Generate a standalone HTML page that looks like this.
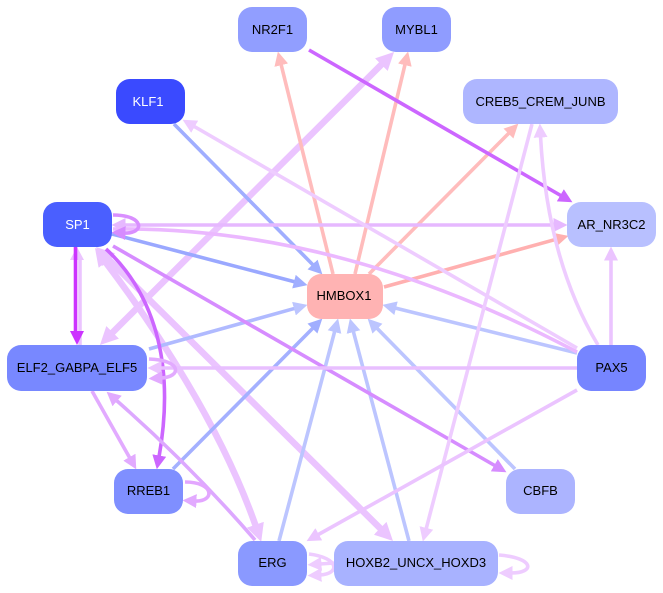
<!DOCTYPE html>
<html>
<head>
<meta charset="utf-8">
<style>
html,body{margin:0;padding:0;background:#fff;}
svg{display:block;}
text{font-family:"Liberation Sans",sans-serif;font-size:13px;text-anchor:middle;fill:#000;}
path.e,line.e{fill:none;stroke-width:3.6;}
line.t{stroke-width:6.5;}
path.t{fill:none;stroke-width:6.5;}
</style>
</head>
<body>
<svg width="663" height="593" viewBox="0 0 663 593" xmlns="http://www.w3.org/2000/svg">
<defs>
<marker id="b1" markerUnits="userSpaceOnUse" markerWidth="15" markerHeight="14" refX="1.5" refY="7" orient="auto"><path d="M0,0L14,7L0,14z" fill="#a0aeff"/></marker>
<marker id="b2" markerUnits="userSpaceOnUse" markerWidth="15" markerHeight="14" refX="1.5" refY="7" orient="auto"><path d="M0,0L14,7L0,14z" fill="#bcc5ff"/></marker>
<marker id="p" markerUnits="userSpaceOnUse" markerWidth="15" markerHeight="14" refX="1.5" refY="7" orient="auto"><path d="M0,0L14,7L0,14z" fill="#ffbcbc"/></marker>
<marker id="r" markerUnits="userSpaceOnUse" markerWidth="15" markerHeight="14" refX="1.5" refY="7" orient="auto"><path d="M0,0L14,7L0,14z" fill="#ffb0b0"/></marker>
<marker id="v" markerUnits="userSpaceOnUse" markerWidth="15" markerHeight="14" refX="1.5" refY="7" orient="auto"><path d="M0,0L14,7L0,14z" fill="#cc66ff"/></marker>
<marker id="l" markerUnits="userSpaceOnUse" markerWidth="15" markerHeight="14" refX="1.5" refY="7" orient="auto"><path d="M0,0L14,7L0,14z" fill="#ebc4ff"/></marker>
<marker id="ls" markerUnits="userSpaceOnUse" markerWidth="15" markerHeight="14" refX="1.5" refY="7" orient="auto-start-reverse"><path d="M0,0L14,7L0,14z" fill="#e6b8ff"/></marker>
<marker id="ll" markerUnits="userSpaceOnUse" markerWidth="15" markerHeight="14" refX="1.5" refY="7" orient="auto"><path d="M0,0L14,7L0,14z" fill="#eeccff"/></marker>
<marker id="d" markerUnits="userSpaceOnUse" markerWidth="15" markerHeight="14" refX="1.5" refY="7" orient="auto"><path d="M0,0L14,7L0,14z" fill="#d68cff"/></marker>
<marker id="e" markerUnits="userSpaceOnUse" markerWidth="15" markerHeight="14" refX="1.5" refY="7" orient="auto"><path d="M0,0L14,7L0,14z" fill="#e2aaff"/></marker>
<marker id="T" markerUnits="userSpaceOnUse" markerWidth="19" markerHeight="18" refX="3" refY="9" orient="auto-start-reverse"><path d="M0,0L18,9L0,18z" fill="#ebc4ff"/></marker>
</defs>

<!-- thick edges -->
<line class="t" x1="110.6" y1="334.4" x2="383.4" y2="62.6" stroke="#ebc4ff" marker-start="url(#T)" marker-end="url(#T)"/>
<line class="t" x1="106.7" y1="257.6" x2="382.3" y2="530.4" stroke="#ebc4ff" marker-start="url(#T)" marker-end="url(#T)"/>
<path class="t" d="M104,260 Q214,406 256.3,527.6" stroke="#ebc4ff" marker-start="url(#T)" marker-end="url(#T)"/>

<!-- edges into HMBOX1 -->
<line class="e" x1="174" y1="124" x2="313.6" y2="265.5" stroke="#a0aeff" marker-end="url(#b1)"/>
<line class="e" x1="112" y1="234" x2="295.4" y2="282" stroke="#9aa8ff" marker-end="url(#b1)"/>
<line class="e" x1="149" y1="349" x2="295.4" y2="308.2" stroke="#b0baff" marker-end="url(#b2)"/>
<line class="e" x1="173" y1="469" x2="313.5" y2="327.5" stroke="#a4b0ff" marker-end="url(#b1)"/>
<line class="e" x1="279" y1="541" x2="334.9" y2="330.6" stroke="#bcc5ff" marker-end="url(#b2)"/>
<line class="e" x1="409" y1="541" x2="353.1" y2="330.6" stroke="#bcc5ff" marker-end="url(#b2)"/>
<line class="e" x1="515" y1="469" x2="376.4" y2="327.6" stroke="#bcc5ff" marker-end="url(#b2)"/>
<line class="e" x1="577" y1="353" x2="394.6" y2="307.9" stroke="#bcc5ff" marker-end="url(#b2)"/>

<!-- edges out of HMBOX1 -->
<line class="e" x1="333" y1="274" x2="280.9" y2="63.7" stroke="#ffbcbc" marker-end="url(#p)"/>
<line class="e" x1="355" y1="274" x2="405.2" y2="63.7" stroke="#ffbcbc" marker-end="url(#p)"/>
<line class="e" x1="369" y1="274" x2="509.5" y2="132.5" stroke="#ffbcbc" marker-end="url(#p)"/>
<line class="e" x1="384" y1="287" x2="556.4" y2="239.2" stroke="#ffb0b0" marker-end="url(#r)"/>

<!-- other edges -->
<line class="e" x1="309" y1="50" x2="561.6" y2="196" stroke="#cc66ff" marker-end="url(#v)"/>
<path class="e" d="M106,249 C145,285 178,350 159,457" stroke="#cc66ff" marker-end="url(#v)"/>
<line class="e" x1="80" y1="259" x2="80" y2="345" stroke="#ebc4ff"/>
<polygon points="77,247 70,260 84,260" fill="#ebc4ff"/>
<line class="e" x1="75.5" y1="247" x2="75.5" y2="334" stroke="#cc33ff"/>
<polygon points="77,345 70,331 84,331" fill="#cc33ff"/>
<line class="e" x1="124" y1="225" x2="555" y2="225" stroke="#e6b8ff" marker-start="url(#ls)" marker-end="url(#ls)"/>
<path class="e" d="M113,229 Q339,226 577,352" stroke="#ebb8ff"/>
<line class="e" x1="113" y1="246" x2="495.6" y2="466" stroke="#d68cff" marker-end="url(#d)"/>
<line class="e" x1="577" y1="348" x2="193.4" y2="126" stroke="#eeccff" marker-end="url(#ll)"/>
<path class="e" d="M598,345 C565,290 545,220 540.5,136" stroke="#eeccff" marker-end="url(#ll)"/>
<line class="e" x1="611" y1="345" x2="611" y2="259" stroke="#ebc4ff" marker-end="url(#l)"/>
<line class="e" x1="532" y1="124" x2="426" y2="529.4" stroke="#eeccff" marker-end="url(#ll)"/>
<line class="e" x1="577" y1="390" x2="317.5" y2="535" stroke="#ebc4ff" marker-end="url(#l)"/>
<line class="e" x1="577" y1="368" x2="160" y2="368" stroke="#e8bfff" marker-end="url(#l)"/>
<line class="e" x1="92" y1="391" x2="130.1" y2="458.5" stroke="#e2aaff" marker-end="url(#e)"/>
<path class="e" d="M255,540 Q190,465 116,400" stroke="#dda8ff" marker-end="url(#e)"/>

<!-- self loops -->
<path class="e" d="M113,215 C145,215 145,234 124,233" stroke="#d98fff" marker-end="url(#d)"/>
<path class="e" d="M149,359 C182,360 182,377 161,378" stroke="#e2aaff" marker-end="url(#e)"/>
<path class="e" d="M185,482 C215,482 215,502 195,501" stroke="#e3a6ff" marker-end="url(#e)"/>
<path class="e" d="M309,554 C340,558 340,574 320,575" stroke="#eeccff" marker-end="url(#ll)"/>
<line class="e" x1="334" y1="563" x2="320" y2="564" stroke="#eeccff" marker-end="url(#ll)"/>
<path class="e" d="M499,555 C535,558 535,573 511,573" stroke="#eeccff" marker-end="url(#ll)"/>

<!-- nodes -->
<rect x="238" y="7" width="69" height="45" rx="14" fill="#919eff"/>
<rect x="382" y="7" width="69" height="45" rx="14" fill="#8f9cff"/>
<rect x="116" y="79" width="69" height="45" rx="14" fill="#3a4aff"/>
<rect x="463" y="79" width="155" height="45" rx="14" fill="#aeb6ff"/>
<rect x="43" y="202" width="69" height="45" rx="14" fill="#4a5fff"/>
<rect x="567" y="202" width="89" height="45" rx="14" fill="#b8c0ff"/>
<rect x="307" y="274" width="76" height="45" rx="14" fill="#ffb3b3"/>
<rect x="7" y="345" width="140" height="46" rx="14" fill="#7888ff"/>
<rect x="577" y="345" width="69" height="46" rx="14" fill="#7685ff"/>
<rect x="114" y="469" width="69" height="45" rx="14" fill="#7f8fff"/>
<rect x="506" y="469" width="69" height="45" rx="14" fill="#acb4ff"/>
<rect x="238" y="541" width="69" height="45" rx="14" fill="#8a99ff"/>
<rect x="334" y="541" width="164" height="45" rx="14" fill="#a8b2ff"/>

<text x="272.5" y="34">NR2F1</text>
<text x="416.5" y="34">MYBL1</text>
<text x="148" y="106" style="fill:#fff">KLF1</text>
<text x="540.5" y="106">CREB5_CREM_JUNB</text>
<text x="77.5" y="229" style="fill:#fff">SP1</text>
<text x="611.5" y="229">AR_NR3C2</text>
<text x="344" y="300">HMBOX1</text>
<text x="77" y="372">ELF2_GABPA_ELF5</text>
<text x="611.5" y="372">PAX5</text>
<text x="148.5" y="495">RREB1</text>
<text x="540.5" y="495">CBFB</text>
<text x="272.5" y="567">ERG</text>
<text x="416" y="567">HOXB2_UNCX_HOXD3</text>
</svg>
</body>
</html>
